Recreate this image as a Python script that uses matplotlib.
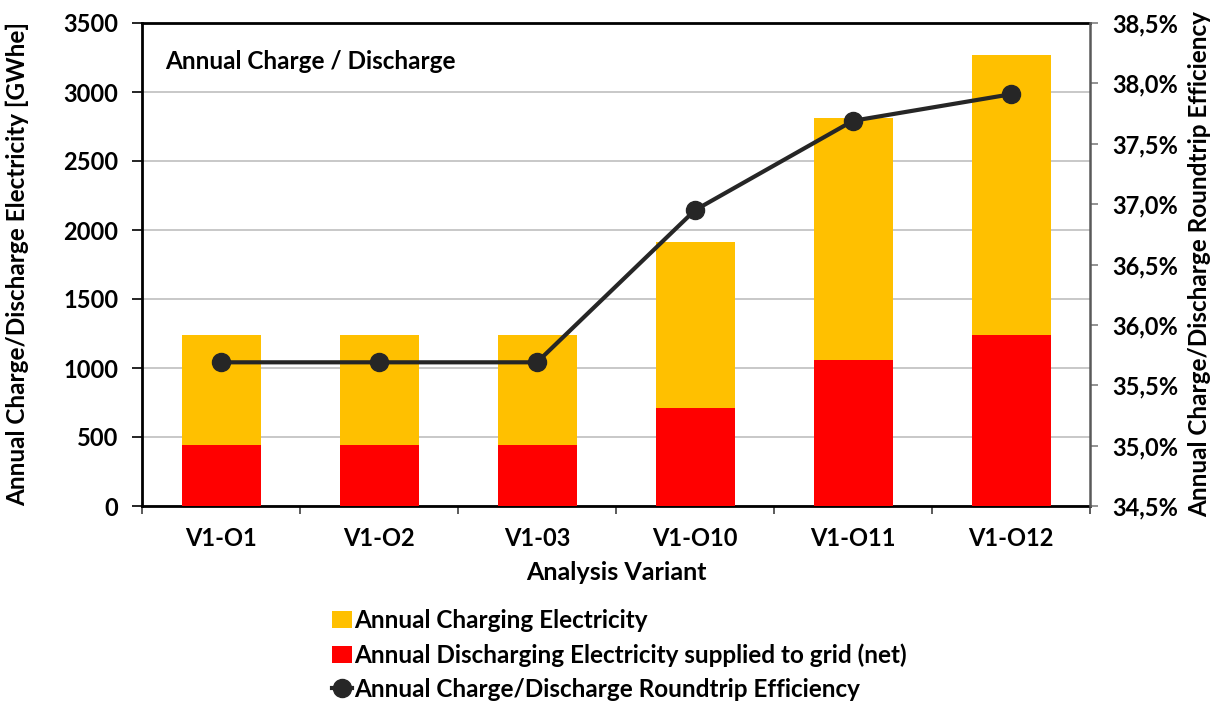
import matplotlib.pyplot as plt
import matplotlib.ticker as mticker
import numpy as np
from matplotlib.lines import Line2D
from matplotlib.patches import Patch

plt.rcParams['font.family'] = ['Lato', 'DejaVu Sans']
plt.rcParams['font.weight'] = 'bold'

variants = ['V1-O1', 'V1-O2', 'V1-03', 'V1-O10', 'V1-O11', 'V1-O12']
charging = [1240, 1240, 1240, 1915, 2815, 3268]       # GWhe
discharging = [443, 443, 443, 710, 1060, 1240]        # GWhe
efficiency = [35.69, 35.69, 35.69, 36.95, 37.69, 37.91]  # %

fig = plt.figure(figsize=(12.2, 7.05), dpi=100)
# plot box in pixels: x 142..1090, y 23..506
ax = fig.add_axes([142 / 1220, 1 - 506 / 705, (1090 - 142) / 1220, (506 - 23) / 705])
x = np.arange(len(variants))

# charging bar drawn behind, discharge in front (overlapping, not stacked)
ax.bar(x, charging, width=0.5, color='#FFC000', zorder=2)
ax.bar(x, discharging, width=0.5, color='#FF0000', zorder=3)

ax.set_xlim(-0.5, len(variants) - 0.5)
ax.set_ylim(0, 3500)
ax.set_yticks(np.arange(0, 3501, 500))
ax.yaxis.grid(True, color='#BFBFBF', linewidth=1.2, zorder=0)
ax.set_axisbelow(True)
ax.set_xticks(x)
ax.set_xticklabels(variants)
ax.set_xticks(np.arange(-0.5, len(variants)), minor=True)
ax.tick_params(axis='x', which='major', length=0, labelsize=17, pad=15)
ax.tick_params(axis='x', which='minor', length=6, width=1.2, color='#404040')
ax.tick_params(axis='y', labelsize=17, length=7, width=1.2, pad=10)
ax.set_xlabel('Analysis Variant', fontsize=18, fontweight='bold', labelpad=8)
ax.set_ylabel('Annual Charge/Discharge Electricity [GWhe]', fontsize=17.5,
              fontweight='bold')
ax.yaxis.set_label_coords(-0.119, 0.5)
for s in ['left', 'bottom', 'top']:
    ax.spines[s].set_linewidth(2)
    ax.spines[s].set_color('black')
ax.spines['right'].set_visible(False)

ax.text(0.024, 0.945, 'Annual Charge / Discharge', transform=ax.transAxes,
        fontsize=17.5, fontweight='bold', va='top', ha='left')

ax2 = ax.twinx()
ax2.plot(x, efficiency, color='#262626', linewidth=3, marker='o',
         markersize=13, zorder=5)
ax2.set_ylim(34.5, 38.5)
ax2.set_yticks(np.arange(34.5, 38.51, 0.5))
ax2.yaxis.set_major_formatter(
    mticker.FuncFormatter(lambda v, p: f'{v:.1f}%'.replace('.', ',')))
ax2.tick_params(axis='y', labelsize=17, length=6, width=1.2, color='#808080', pad=10)
ax2.set_ylabel('Annual Charge/Discharge Roundtrip Efficiency', fontsize=17.5,
               fontweight='bold')
ax2.yaxis.set_label_coords(1.103, 0.5)
ax2.spines['right'].set_color('#595959')
ax2.spines['right'].set_linewidth(1.8)
for s in ['left', 'bottom', 'top']:
    ax2.spines[s].set_visible(False)

handles = [
    Patch(facecolor='#FFC000', edgecolor='none'),
    Patch(facecolor='#FF0000', edgecolor='none'),
    Line2D([], [], color='#262626', linewidth=3, marker='o', markersize=13),
]
labels = ['Annual Charging Electricity',
          'Annual Discharging Electricity supplied to grid (net)',
          'Annual Charge/Discharge Roundtrip Efficiency']
fig.legend(handles, labels, loc='upper left', bbox_to_anchor=(320 / 1220, 1 - 597 / 705),
           frameon=False, handlelength=0.8, handletextpad=0.1, borderpad=0,
           labelspacing=0.45, prop={'weight': 'bold', 'size': 17.5})

fig.savefig('out.png', dpi=100)
